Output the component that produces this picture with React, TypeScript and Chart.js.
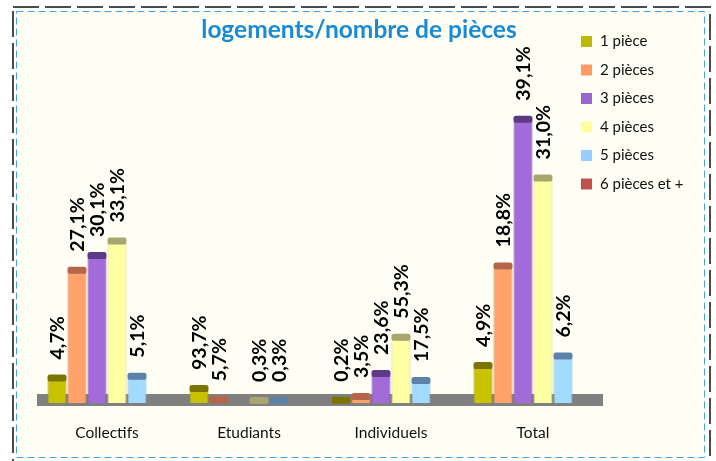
import React, { useEffect, useRef } from "react";
import { Chart, registerables } from "chart.js";

Chart.register(...registerables);

const categories = ["Collectifs", "Etudiants", "Individuels", "Total"];
const seriesNames = ["1 pièce", "2 pièces", "3 pièces", "4 pièces", "5 pièces", "6 pièces et +"];

// estimated number of logements (bar heights)
const piece1 = [315, 168, 3, 490];
const piece2 = [1820, 10, 56, 1880];
const piece3 = [2025, 0, 378, 3930];
const piece4 = [2230, 0.5, 885, 3110];
const piece5 = [340, 0.5, 280, 620];
const piece6: (number | null)[] = [null, null, null, null];

// percentage labels shown above bars
const pct1 = ["4,7%", "93,7%", "0,2%", "4,9%"];
const pct2 = ["27,1%", "5,7%", "3,5%", "18,8%"];
const pct3 = ["30,1%", null, "23,6%", "39,1%"];
const pct4 = ["33,1%", "0,3%", "55,3%", "31,0%"];
const pct5 = ["5,1%", "0,3%", "17,5%", "6,2%"];
const pct6: (string | null)[] = [null, null, null, null];

const seriesValues = [piece1, piece2, piece3, piece4, piece5, piece6];
const seriesLabels = [pct1, pct2, pct3, pct4, pct5, pct6];

const bodyColors = ["#C9C200", "#FFA36B", "#A36BD9", "#FFFFA3", "#A3DBFF", "#C0504D"];
const edgeColors = ["#9C9600", "#D9845A", "#8455B5", "#D6D68A", "#84B6D8", "#9A3E3B"];
const capColors = ["#7B7500", "#B5654A", "#5E3A85", "#A8A66E", "#5B82A8", "#8A3432"];
const legendColors = ["#BDB800", "#FF9966", "#9966CC", "#FFFF99", "#99CCFF", "#C0504D"];

const FONT = "Lato, 'Open Sans', sans-serif";

function roundRect(ctx: CanvasRenderingContext2D, x: number, y: number, w: number, h: number, r: number) {
  ctx.beginPath();
  ctx.moveTo(x + r, y);
  ctx.lineTo(x + w - r, y);
  ctx.quadraticCurveTo(x + w, y, x + w, y + r);
  ctx.lineTo(x + w, y + h - r);
  ctx.quadraticCurveTo(x + w, y + h, x + w - r, y + h);
  ctx.lineTo(x + r, y + h);
  ctx.quadraticCurveTo(x, y + h, x, y + h - r);
  ctx.lineTo(x, y + r);
  ctx.quadraticCurveTo(x, y, x + r, y);
  ctx.closePath();
}

const decor = {
  id: "decor",
  beforeDraw(chart: any) {
    const ctx: CanvasRenderingContext2D = chart.ctx;
    const W = chart.width;
    const H = chart.height;
    ctx.save();
    ctx.fillStyle = "#FFFFFF";
    ctx.fillRect(0, 0, W, H);
    ctx.fillStyle = "#FFFEF4";
    ctx.fillRect(16.5, 11.5, 688, 446);
    ctx.setLineDash([7, 4]);
    ctx.strokeStyle = "#45A2DE";
    ctx.lineWidth = 1;
    ctx.strokeRect(16.5, 11.5, 688, 446);
    ctx.setLineDash([26, 6]);
    ctx.strokeStyle = "#4A4A4A";
    ctx.lineWidth = 2;
    ctx.strokeRect(13, 7, 697, 470);
    ctx.setLineDash([]);

    // title
    ctx.fillStyle = "#1B8AD6";
    ctx.font = "bold 24.5px " + FONT;
    ctx.textAlign = "center";
    ctx.textBaseline = "alphabetic";
    ctx.fillText("logements/nombre de pièces", 359, 38);

    // legend
    ctx.font = "15px " + FONT;
    ctx.textAlign = "left";
    ctx.textBaseline = "middle";
    seriesNames.forEach((name, i) => {
      const cy = 41.5 + i * 28.5;
      ctx.fillStyle = legendColors[i];
      ctx.fillRect(581, cy - 5.5, 11, 11);
      ctx.fillStyle = "#111111";
      ctx.fillText(name, 600, cy);
    });
    ctx.restore();
  },
  beforeDatasetsDraw(chart: any) {
    const ctx: CanvasRenderingContext2D = chart.ctx;
    const a = chart.chartArea;
    ctx.save();
    ctx.fillStyle = "#808080";
    ctx.fillRect(a.left + 1, a.bottom - 9, a.right - a.left - 2, 12);
    ctx.restore();
  },
  afterDatasetsDraw(chart: any) {
    const ctx: CanvasRenderingContext2D = chart.ctx;
    ctx.save();
    chart.data.datasets.forEach((ds: any, di: number) => {
      const meta = chart.getDatasetMeta(di);
      meta.data.forEach((el: any, i: number) => {
        const v = ds.data[i];
        if (v == null || v <= 0) return;
        const w = el.width;
        const x0 = el.x - w / 2;
        ctx.fillStyle = capColors[di];
        roundRect(ctx, x0, el.y - 6, w, 7, 2.5);
        ctx.fill();
      });
    });
    ctx.fillStyle = "#000000";
    ctx.font = "bold 19.5px " + FONT;
    ctx.textAlign = "left";
    ctx.textBaseline = "middle";
    chart.data.datasets.forEach((ds: any, di: number) => {
      const meta = chart.getDatasetMeta(di);
      meta.data.forEach((el: any, i: number) => {
        const lab = seriesLabels[di][i];
        if (!lab) return;
        ctx.save();
        ctx.translate(el.x, el.y - 21);
        ctx.rotate(-Math.PI / 2);
        ctx.fillText(lab, 0, 1);
        ctx.restore();
      });
    });
    ctx.restore();
  },
};

export default function App() {
  const ref = useRef<HTMLCanvasElement | null>(null);
  useEffect(() => {
    if (!ref.current) return;
    Chart.defaults.font.family = FONT;
    const chart = new Chart(ref.current, {
      type: "bar",
      data: {
        labels: categories,
        datasets: seriesNames.map((name, i) => ({
          label: name,
          data: seriesValues[i] as any,
          backgroundColor: bodyColors[i],
          borderColor: edgeColors[i],
          borderWidth: 1,
          categoryPercentage: 0.845,
          barPercentage: 0.95,
        })),
      },
      options: {
        responsive: false,
        animation: false,
        layout: { padding: { top: 63, left: 36, right: 112, bottom: 0 } },
        plugins: {
          legend: { display: false },
          title: { display: false },
          tooltip: { enabled: false },
        },
        scales: {
          x: {
            grid: { display: false, drawTicks: false },
            border: { display: false },
            ticks: { color: "#111111", font: { family: FONT, size: 15.5 }, padding: 21 },
            afterFit: (s: any) => {
              s.height = 58;
            },
          },
          y: { display: false, min: 0, max: 4750 },
        },
      },
      plugins: [decor],
    });
    return () => chart.destroy();
  }, []);
  return (
    <div style={{ position: "absolute", left: 0, top: 0, width: 716, height: 461 }}>
      <canvas ref={ref} width={716} height={461} />
    </div>
  );
}
